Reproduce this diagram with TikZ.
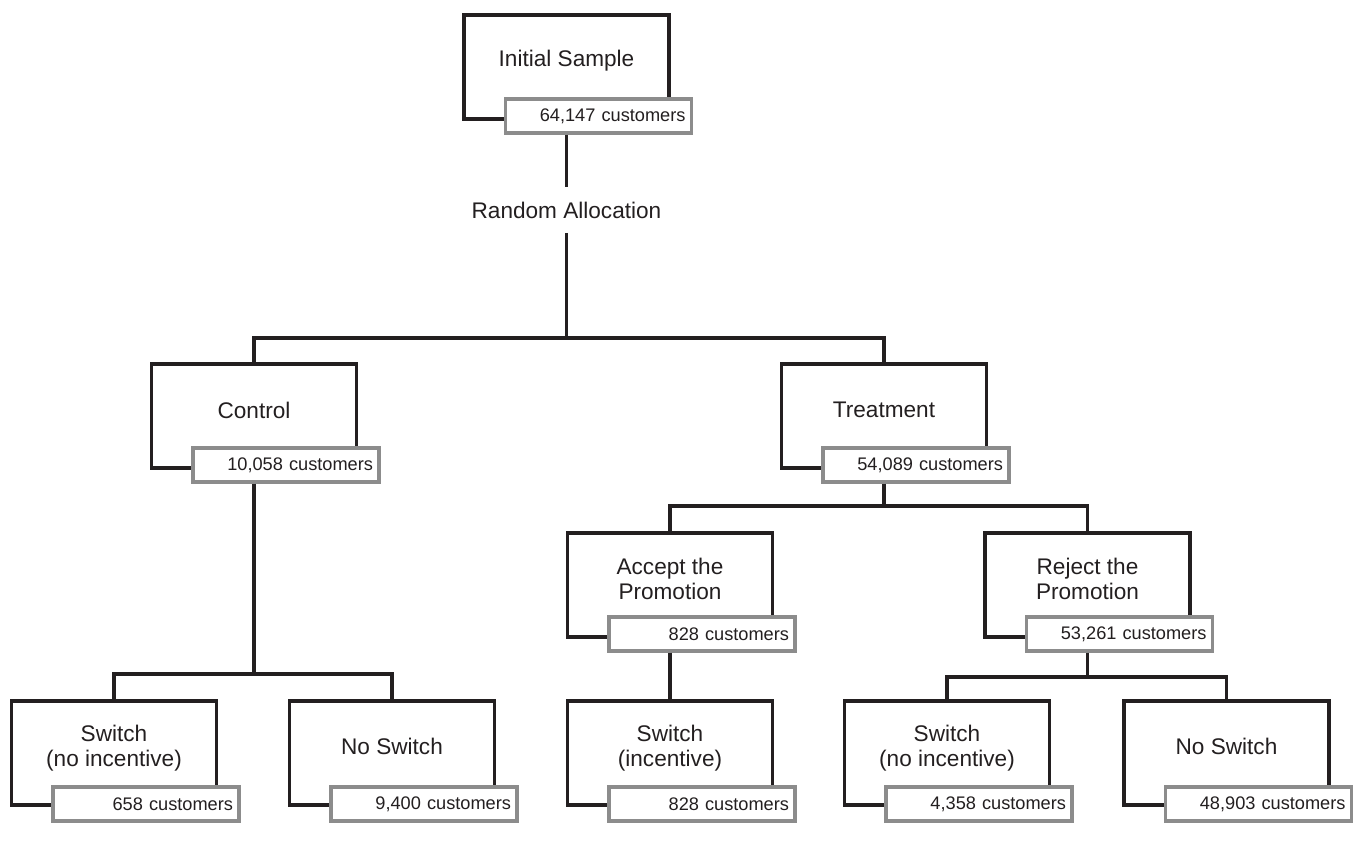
\documentclass[tikz,border=0pt]{standalone}
\usepackage{fontspec}
\setmainfont{Liberation Sans}
\definecolor{ink}{HTML}{231F20}
\definecolor{cntgray}{HTML}{8C8C8C}
\begin{document}
\begin{tikzpicture}[x=0.5pt,y=-0.5pt,
  blk/.style={draw=ink, line width=1.75pt, rectangle, minimum width=102.5pt, minimum height=52pt, inner sep=0pt},
  lbl/.style={text=ink, align=center, font=\fontsize{11.3}{12.8}\selectfont, inner sep=0pt},
  cnt/.style={draw=cntgray, line width=1.6pt, fill=white, rectangle, minimum width=93pt, minimum height=17pt,
    text width=87pt, inner xsep=3pt, inner ysep=0pt, align=right, text=ink, font=\fontsize{9.1}{10}\selectfont},
  conn/.style={draw=ink, line width=1.75pt}]
\useasboundingbox (0,0) rectangle (1354,849);
% row 0
\node[blk] (init) at (566.5,67) {};
\node[lbl] (initT) at (566.5,61) {Initial Sample};
\node[cnt] (c0) at (598.5,116) {64,147 customers};
\node[lbl, minimum height=22.5pt] (ra) at (566.5,210) {Random Allocation};
\coordinate (bar1) at (566.5,338);
% row 1
\node[blk] (ctrl) at (254,416) {};
\node[lbl] (ctrlT) at (254,410) {Control};
\node[cnt] (c1) at (286,465) {10,058 customers};
\node[blk] (trt) at (884,416) {};
\node[lbl] (trtT) at (884,410) {Treatment};
\node[cnt] (c2) at (916,465) {54,089 customers};
\coordinate (bar2) at (254,674);
\coordinate (bar3) at (884,506);
% row 2
\node[blk] (acc) at (670,585) {};
\node[lbl] (accT) at (670,579) {Accept the\\Promotion};
\node[cnt] (c3) at (702,634) {828 customers};
\node[blk] (rej) at (1087.5,585) {};
\node[lbl] (rejT) at (1087.5,579) {Reject the\\Promotion};
\node[cnt] (c4) at (1119.5,634) {53,261 customers};
\coordinate (bar4) at (1087.5,677);
% row 3
\node[blk] (swl) at (114,753) {};
\node[lbl] (swlT) at (114,748) {Switch\\(no incentive)};
\node[cnt] (c5) at (146,804) {658 customers};
\node[blk] (nsl) at (392,753) {};
\node[lbl] (nslT) at (392,746) {No Switch};
\node[cnt] (c6) at (424,804) {9,400 customers};
\node[blk] (swi) at (670,753) {};
\node[lbl] (swiT) at (670,748) {Switch\\(incentive)};
\node[cnt] (c7) at (702,804) {828 customers};
\node[blk] (swr) at (947,753) {};
\node[lbl] (swrT) at (947,748) {Switch\\(no incentive)};
\node[cnt] (c8) at (979,804) {4,358 customers};
\node[blk] (nsr) at (1226.5,753) {};
\node[lbl] (nsrT) at (1226.5,746) {No Switch};
\node[cnt] (c9) at (1258.5,804) {48,903 customers};
% connectors
\draw[conn] (c0.south -| init.center) -- (ra.north);
\draw[conn] (ra.south) -- (bar1);
\draw[conn] (ctrl.north) |- (bar1) -| (trt.north);
\draw[conn] (c1.south -| ctrl.center) -- (bar2);
\draw[conn] (swl.north) |- (bar2) -| (nsl.north);
\draw[conn] (c2.south -| trt.center) -- (bar3);
\draw[conn] (acc.north) |- (bar3) -| (rej.north);
\draw[conn] (c3.south -| acc.center) -- (swi.north);
\draw[conn] (c4.south -| rej.center) -- (bar4);
\draw[conn] (swr.north) |- (bar4) -| (nsr.north);
\end{tikzpicture}
\end{document}
